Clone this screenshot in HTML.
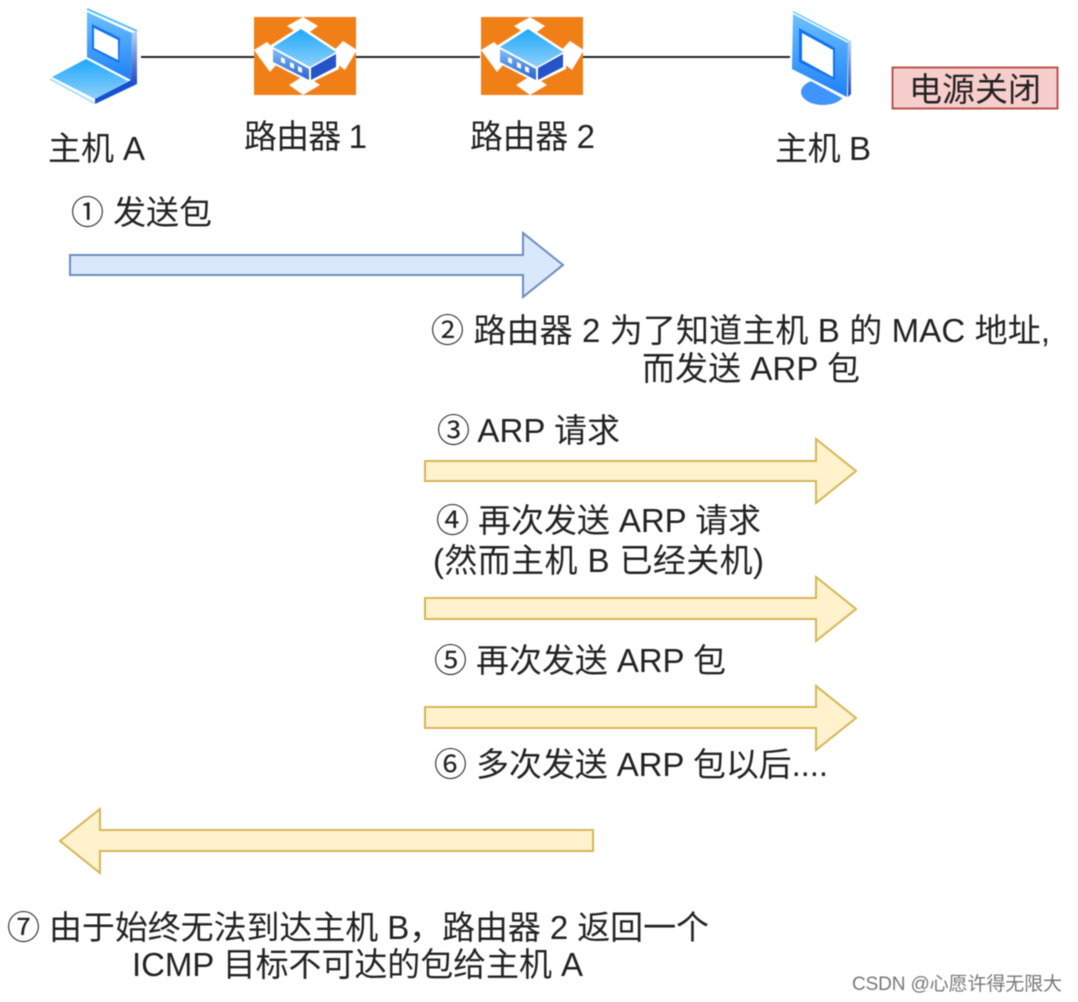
<!DOCTYPE html>
<html><head><meta charset="utf-8"><style>
html,body{margin:0;padding:0;background:#fff;width:1078px;height:1002px;overflow:hidden}
svg{display:block;filter:blur(.45px)}
text{font-family:"Liberation Sans","Noto Sans CJK SC",sans-serif;font-size:33px;fill:#222}
</style></head><body>
<svg width="1078" height="1002" viewBox="0 0 1078 1002" xmlns="http://www.w3.org/2000/svg">
<defs>
<linearGradient id="b" x1="0" y1="0" x2="0" y2="1"><stop offset="0" stop-color="#1fa8fb"/><stop offset="1" stop-color="#8fd0fb"/></linearGradient>
<linearGradient id="s" x1="0" y1="0" x2="0" y2="1"><stop offset="0" stop-color="#6cc0ff"/><stop offset="1" stop-color="#1f80f5"/></linearGradient>
<linearGradient id="d" x1="0" y1="0" x2="0" y2="1"><stop offset="0" stop-color="#b8d4f8"/><stop offset="1" stop-color="#1c48c0"/></linearGradient>
<linearGradient id="f" x1="0" y1="0" x2="0" y2="1"><stop offset="0" stop-color="#7fc0f8"/><stop offset="1" stop-color="#2a60d0"/></linearGradient>
<g id="r">
<rect x="1" y="0" width="102" height="78" fill="#f07f17"/>
<path d="M50 0 L65 9 L50 20 L34 9Z M50 78 L67 68 L52 58 L36 68Z M1 33 L14 25 L30 40 L17 55Z M104 33 L90 24 L75 40 L92 53Z" fill="#fff"/>
<path d="M48 9 L86 34 L86 52 L57 66 L18 46 L18 28Z" fill="#fff"/>
<path d="M48 12 L83 35 L57 50 L20 30Z" fill="url(#b)"/>
<path d="M20 32 L56 52 L56 63 L20 45Z" fill="url(#f)"/>
<path d="M58 51 L83 37 L83 50 L58 63Z" fill="#2553c8"/>
<path d="M28 40l4 2v5l-4-2zM37 45l4 2v5l-4-2zM45 49l4 2v5l-4-2z" fill="#fff"/>
</g>
</defs>
<rect width="1078" height="1002" fill="#fff"/>

<path d="M141 57H254M356 57H480M583 57H790" stroke="#222" stroke-width="2" fill="none"/>

<!-- laptop -->
<path d="M87 9 L137 31" stroke="#4fc0ff" stroke-width="2" fill="none"/>
<path d="M87 12 L132 33 L131 80 L87 57Z" fill="url(#s)"/>
<path d="M92 24 L120 38 L119 63 L92 49Z" fill="#0f72f0"/>
<path d="M94 28 L118 40 L118 60 L94 48Z" fill="#fff"/>
<path d="M132 33 L137 31 L137 84 L131 80Z" fill="url(#d)"/>
<path d="M86 59 L128 81 L95 99 L52 77Z" fill="url(#b)"/>
<path d="M50 79 L94 103" stroke="#9fd4fb" stroke-width="1.500" fill="none"/>
<path d="M95 104 L137 84 L131 80 L95 99Z" fill="#1550d0"/>

<!-- routers -->
<use href="#r" x="253" y="17"/>
<use href="#r" x="480" y="17"/>

<!-- monitor -->
<ellipse cx="823" cy="92" rx="22" ry="13" fill="#3f95fb"/>
<path d="M793 12 L848 41" stroke="#4fc0ff" stroke-width="2" fill="none"/>
<path d="M792 69 L847 99 L848 43 L793 14Z" fill="#fff" stroke="#fff" stroke-width="3"/>
<path d="M793 14 L848 43 L847 97 L792 69Z" fill="url(#s)"/>
<path d="M799 28 L835 48 L835 80 L799 62Z" fill="#0f72f0"/>
<path d="M802 33 L833 50 L833 77 L802 60Z" fill="#fff"/>
<path d="M848 41 L851 40 L851 94 L848 97Z" fill="url(#d)"/>

<rect x="892.500" y="67.500" width="165" height="41" fill="#f8cecc" stroke="#b85450" stroke-width="2"/>
<text x="909" y="101" textLength="132">电源关闭</text>

<text x="48" y="160" textLength="97">主机 A</text>
<text x="244" y="148" textLength="123">路由器 1</text>
<text x="470" y="148" textLength="125">路由器 2</text>
<text x="775" y="160" textLength="96">主机 B</text>

<text x="71" y="224" textLength="141">① 发送包</text>
<path d="M70 255H523V233L563 265L523 297V275H70Z" fill="#dae8fc" stroke="#6c8ebf" stroke-width="2"/>

<text x="431" y="342" textLength="619">② 路由器 2 为了知道主机 B 的 MAC 地址,</text>
<text x="642" y="380" textLength="218">而发送 ARP 包</text>

<text x="437" y="442" textLength="183">③ ARP 请求</text>
<path d="M425 461H816V439L856 471L816 503V481H425Z" fill="#fff2cc" stroke="#d6b656" stroke-width="2"/>

<text x="436" y="532" textLength="325">④ 再次发送 ARP 请求</text>
<text x="433" y="572" textLength="331">(然而主机 B 已经关机)</text>
<path d="M425 598H816V577L856 609L816 641V619H425Z" fill="#fff2cc" stroke="#d6b656" stroke-width="2"/>

<text x="434" y="672" textLength="292">⑤ 再次发送 ARP 包</text>
<path d="M425 707H816V686L856 718L816 750V728H425Z" fill="#fff2cc" stroke="#d6b656" stroke-width="2"/>

<text x="434" y="776" textLength="394">⑥ 多次发送 ARP 包以后....</text>
<path d="M593 830H100V809L60 841L100 873V851H593Z" fill="#fff2cc" stroke="#d6b656" stroke-width="2"/>

<text x="7" y="939" textLength="702">⑦ 由于始终无法到达主机 B，路由器 2 返回一个</text>
<text x="132" y="976" textLength="451">ICMP 目标不可达的包给主机 A</text>

<text x="852" y="990" textLength="210" style="font-size:19px;fill:#777">CSDN @心愿许得无限大</text>
</svg>
</body></html>
